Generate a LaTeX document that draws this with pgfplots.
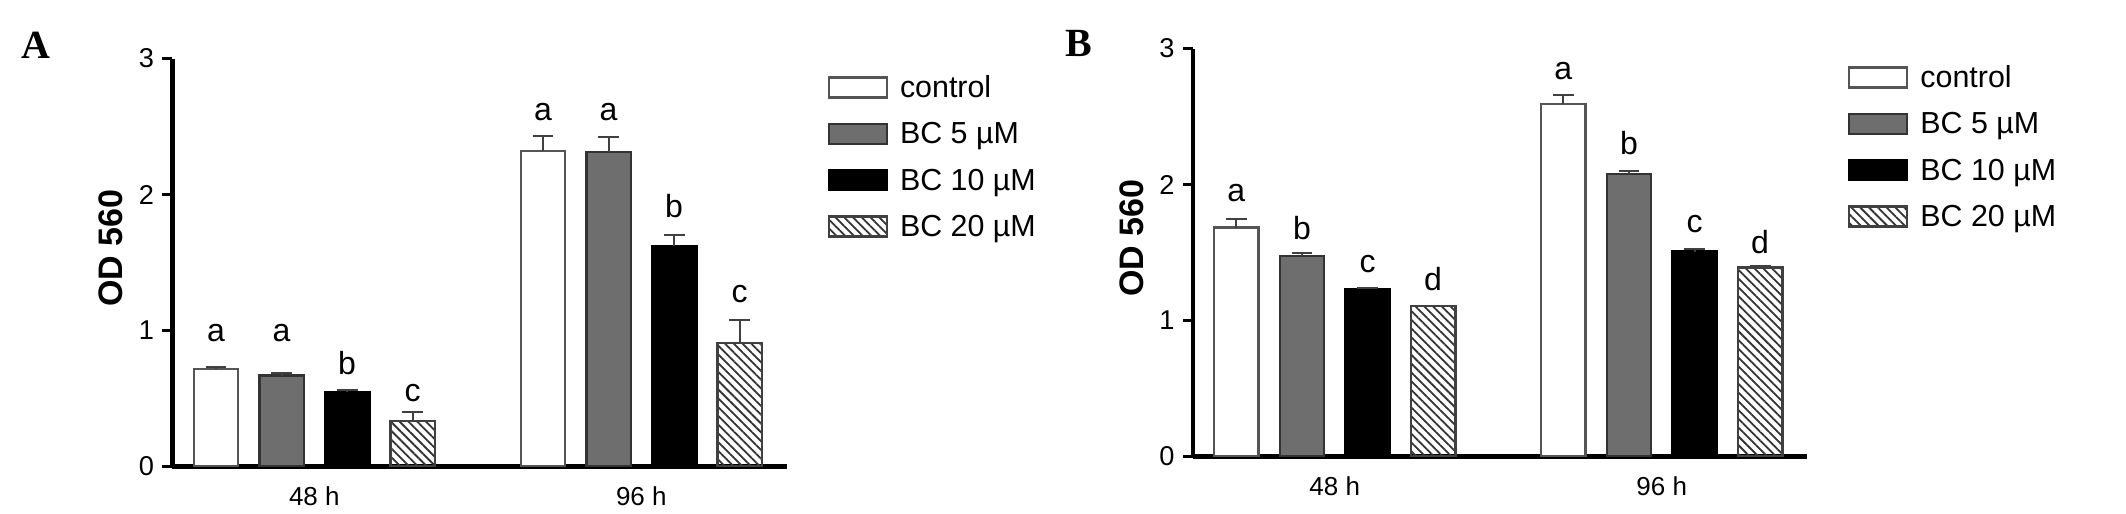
\documentclass[border=0pt]{standalone}
\usepackage{pgfplots}
\pgfplotsset{compat=1.18}
\usepackage{pgfplotstable}
\usetikzlibrary{patterns.meta}
\usepackage{fontspec}
\setmainfont{Liberation Sans}
\newfontfamily\seriffont{Liberation Serif}

\definecolor{edgegray}{HTML}{555555}
\definecolor{midgray}{HTML}{6E6E6E}

% Panel A
\pgfplotstableread{
x y err ly lbl
0 0.716 0.019 0.907 a
1 2.322 0.108 2.535 a
}\Actl
\pgfplotstableread{
x y err ly lbl
0 0.669 0.022 0.907 a
1 2.314 0.106 2.535 a
}\Afive
\pgfplotstableread{
x y err ly lbl
0 0.546 0.018 0.669 b
1 1.624 0.078 1.818 b
}\Aten
\pgfplotstableread{
x y err ly lbl
0 0.335 0.064 0.470 c
1 0.907 0.171 1.195 c
}\Atwenty
% Panel B
\pgfplotstableread{
x y err ly lbl
0 1.684 0.066 1.861 a
1 2.594 0.066 2.759 a
}\Bctl
\pgfplotstableread{
x y err ly lbl
0 1.475 0.019 1.585 b
1 2.077 0.020 2.213 b
}\Bfive
\pgfplotstableread{
x y err ly lbl
0 1.234 0.008 1.346 c
1 1.507 0.017 1.635 c
}\Bten
\pgfplotstableread{
x y err ly lbl
0 1.106 0.004 1.209 d
1 1.389 0.012 1.480 d
}\Btwenty

\pgfplotsset{
  boxlegend/.style={legend image code/.code={\draw[##1] (0pt,-2.5pt) rectangle (14.5pt,2.5pt);}},
  ctlbar/.style={fill=white, draw=edgegray, line width=0.6pt, boxlegend},
  fivebar/.style={fill=midgray, draw=black!80, line width=0.6pt, boxlegend},
  tenbar/.style={fill=black, draw=black, line width=0.6pt, boxlegend},
  twentybar/.style={fill=white, draw=black!75, line width=0.6pt,
     pattern={Lines[angle=-45,distance=1.55pt,line width=0.45pt]}, pattern color=black!80, boxlegend},
  barpanel/.style={
    width=153.6pt, height=102pt, scale only axis,
    xmin=-0.434, xmax=1.445, ymin=0, ymax=3,
    axis x line*=bottom, axis y line*=left,
    axis line style={-, line width=1.1pt, black},
    ybar=5.3pt, bar width=11.1pt,
    xtick={0,1}, xticklabels={48 h, 96 h},
    x tick style={draw=none},
    ytick={0,1,2,3},
    tick align=outside,
    major tick length=2.5pt,
    y tick style={line width=0.9pt, black},
    /pgf/number format/assume math mode=true,
    yticklabel style={font=\fontsize{6.8}{8}\selectfont, inner sep=0pt, xshift=-1.9pt},
    xticklabel style={font=\fontsize{6.5}{8}\selectfont, inner sep=0pt, anchor=north, yshift=-2.4pt},
    ylabel={OD 560},
    every axis y label/.style={at={(axis description cs:-0.1,0.535)}, rotate=90, anchor=center,
       font=\fontsize{8.5}{10}\selectfont\bfseries},
    legend style={at={(rel axis cs:1,1)}, anchor=north west, xshift=10pt, yshift=-4.2pt,
       draw=none, fill=none, inner sep=0pt, row sep=6.0pt, column sep=3pt,
       font=\fontsize{7.6}{9}\selectfont,
       nodes={inner sep=0pt, text height=5pt, text depth=0pt}},
    legend cell align=left,
    error bars/y dir=plus, error bars/y explicit,
    error bars/error bar style={line width=0.5pt, black!75, solid},
    error bars/error mark options={rotate=90, line width=0.5pt, black!75, mark size=2.6pt, solid},
    nodes near coords, point meta=explicit symbolic,
    visualization depends on={(\thisrow{ly}-\thisrow{y})*34 \as \lshift},
    every node near coord/.append style={font=\fontsize{8}{9}\selectfont, text=black,
       anchor=south, inner sep=0pt, yshift={\lshift*1pt}},
  },
}

\begin{document}
\begin{tikzpicture}
\path[use as bounding box] (0,0) rectangle (531.5pt,128.25pt);

\node[font=\seriffont\bfseries\fontsize{10}{12}\selectfont, inner sep=0pt] at (9.1pt,116.8pt) {A};
\node[font=\seriffont\bfseries\fontsize{10}{12}\selectfont, inner sep=0pt] at (269.8pt,117.4pt) {B};

\begin{axis}[barpanel, at={(43.1pt,11.6pt)}, anchor=south west]
\addplot[ctlbar] table[x=x,y=y,y error=err,meta=lbl]{\Actl};
\addplot[fivebar] table[x=x,y=y,y error=err,meta=lbl]{\Afive};
\addplot[tenbar] table[x=x,y=y,y error=err,meta=lbl]{\Aten};
\addplot[twentybar] table[x=x,y=y,y error=err,meta=lbl]{\Atwenty};
\legend{control, BC 5 µM, BC 10 µM, BC 20 µM}
\end{axis}

\begin{axis}[barpanel, at={(298.2pt,14.1pt)}, anchor=south west]
\addplot[ctlbar] table[x=x,y=y,y error=err,meta=lbl]{\Bctl};
\addplot[fivebar] table[x=x,y=y,y error=err,meta=lbl]{\Bfive};
\addplot[tenbar] table[x=x,y=y,y error=err,meta=lbl]{\Bten};
\addplot[twentybar] table[x=x,y=y,y error=err,meta=lbl]{\Btwenty};
\legend{control, BC 5 µM, BC 10 µM, BC 20 µM}
\end{axis}
\end{tikzpicture}
\end{document}
